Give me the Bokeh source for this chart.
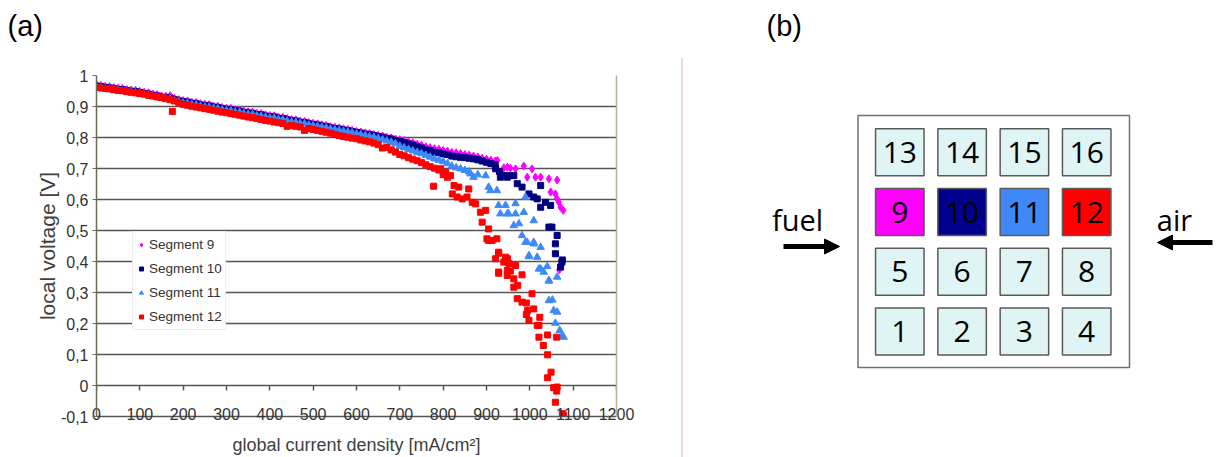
from bokeh.plotting import figure
from bokeh.layouts import row
from bokeh.models import (FixedTicker, CustomJSTickFormatter, Legend, LegendItem, Div, Title,
                          Range1d, Arrow, NormalHead, LinearAxis, ColumnDataSource)
from bokeh.embed import file_html
from bokeh.resources import INLINE
from bokeh.core.properties import value

# ---------------- data ----------------
grid_x = [0, 10, 20, 30, 40, 50, 60, 70, 80, 90,
          100, 110, 120, 130, 140, 150, 160, 170, 180, 190,
          200, 210, 220, 230, 240, 250, 260, 270, 280, 290,
          300, 310, 320, 330, 340, 350, 360, 370, 380, 390,
          400, 410, 420, 430, 440, 450, 460, 470, 480, 490,
          500, 510, 520, 530, 540, 550, 560, 570, 580, 590,
          600, 610, 620, 630, 640, 650, 660, 670, 680, 690,
          700, 710, 720, 730, 740, 750, 760, 770, 780, 790,
          800, 810, 820, 830, 840, 850, 860, 870, 880, 890,
          900, 910, 920]

seg9_dense = [0.970, 0.968, 0.965, 0.964, 0.961, 0.959, 0.958, 0.955, 0.953, 0.952,
              0.949, 0.946, 0.944, 0.940, 0.938, 0.934, 0.933, 0.935, 0.926, 0.922,
              0.919, 0.918, 0.914, 0.913, 0.909, 0.907, 0.906, 0.902, 0.901, 0.897,
              0.895, 0.894, 0.890, 0.889, 0.885, 0.883, 0.882, 0.878, 0.877, 0.873,
              0.871, 0.870, 0.866, 0.865, 0.861, 0.858, 0.857, 0.853, 0.852, 0.848,
              0.846, 0.844, 0.841, 0.839, 0.835, 0.833, 0.831, 0.828, 0.826, 0.823,
              0.820, 0.818, 0.815, 0.813, 0.810, 0.807, 0.805, 0.801, 0.799, 0.795,
              0.793, 0.790, 0.786, 0.783, 0.778, 0.775, 0.770, 0.767, 0.764, 0.762,
              0.758, 0.756, 0.752, 0.751, 0.748, 0.745, 0.743, 0.740, 0.737, 0.733,
              0.730, 0.727, 0.724]
seg9_tail_x = [925, 940, 948, 955, 967, 986, 994, 1005, 1013, 1025, 1044, 1048,
               1059, 1063, 1063, 1067, 1071, 1077, 1068]
seg9_tail_y = [0.726, 0.702, 0.704, 0.701, 0.699, 0.708, 0.672, 0.699, 0.672, 0.672,
               0.667, 0.624, 0.618, 0.663, 0.602, 0.591, 0.575, 0.565, 0.373]

seg10_dense = [0.966, 0.964, 0.961, 0.960, 0.957, 0.955, 0.954, 0.951, 0.949, 0.948,
               0.945, 0.942, 0.940, 0.936, 0.934, 0.930, 0.928, 0.927, 0.922, 0.918,
               0.915, 0.914, 0.910, 0.909, 0.905, 0.903, 0.902, 0.898, 0.897, 0.893,
               0.891, 0.890, 0.886, 0.885, 0.881, 0.879, 0.878, 0.874, 0.873, 0.869,
               0.867, 0.866, 0.862, 0.861, 0.857, 0.854, 0.853, 0.849, 0.848, 0.844,
               0.842, 0.840, 0.837, 0.835, 0.831, 0.829, 0.827, 0.824, 0.822, 0.819,
               0.816, 0.814, 0.811, 0.809, 0.806, 0.803, 0.801, 0.797, 0.795, 0.790,
               0.787, 0.784, 0.779, 0.776, 0.770, 0.766, 0.760, 0.757, 0.752, 0.751,
               0.747, 0.745, 0.740, 0.738, 0.736, 0.735, 0.733, 0.731, 0.728, 0.724,
               0.720, 0.716, 0.712]
seg10_tail_x = [921, 930, 932, 936, 948, 948, 963, 971, 982, 998, 1009, 1017, 1025,
                1025, 1036, 1048, 1044, 1051, 1063, 1059, 1059, 1074, 1071, 1075]
seg10_tail_y = [0.699, 0.690, 0.672, 0.677, 0.677, 0.672, 0.677, 0.651, 0.640, 0.618,
                0.608, 0.602, 0.645, 0.575, 0.591, 0.581, 0.511, 0.511, 0.484, 0.457,
                0.425, 0.398, 0.382, 0.405]

seg11_dense = [0.962, 0.960, 0.957, 0.956, 0.953, 0.951, 0.950, 0.947, 0.945, 0.944,
               0.941, 0.938, 0.936, 0.932, 0.930, 0.926, 0.924, 0.923, 0.918, 0.914,
               0.911, 0.910, 0.906, 0.905, 0.901, 0.899, 0.898, 0.894, 0.893, 0.889,
               0.887, 0.886, 0.882, 0.881, 0.877, 0.875, 0.874, 0.870, 0.869, 0.865,
               0.863, 0.862, 0.858, 0.857, 0.853, 0.850, 0.849, 0.845, 0.844, 0.840,
               0.838, 0.836, 0.833, 0.831, 0.827, 0.825, 0.823, 0.820, 0.818, 0.815,
               0.812, 0.809, 0.806, 0.803, 0.800, 0.797, 0.793, 0.789, 0.785, 0.780,
               0.772, 0.767, 0.762, 0.757, 0.752, 0.748, 0.743, 0.737, 0.731, 0.727,
               0.722, 0.716, 0.708, 0.703, 0.699, 0.694, 0.689]
seg11_tail_x = [863, 870, 880, 898, 905, 909, 924, 928, 932, 944, 948, 951, 963, 967,
                967, 975, 982, 986, 990, 990, 994, 998, 998, 1009, 1009, 1009, 1017,
                1021, 1025, 1025, 1032, 1040, 1044, 1044, 1044, 1052, 1055, 1063, 1063,
                1059, 1069, 1075, 1078]
seg11_tail_y = [0.683, 0.672, 0.680, 0.677, 0.640, 0.629, 0.629, 0.581, 0.554, 0.581,
                0.554, 0.554, 0.516, 0.587, 0.554, 0.522, 0.484, 0.559, 0.608, 0.462,
                0.462, 0.419, 0.416, 0.532, 0.457, 0.462, 0.414, 0.376, 0.446, 0.376,
                0.366, 0.384, 0.339, 0.337, 0.274, 0.276, 0.242, 0.350, 0.237, 0.201,
                0.178, 0.161, 0.156]

seg12_dense = [0.962, 0.960, 0.958, 0.957, 0.954, 0.952, 0.951, 0.948, 0.946, 0.944,
               0.942, 0.940, 0.936, 0.934, 0.931, 0.929, 0.925, 0.922, 0.918, 0.912,
               0.907, 0.904, 0.901, 0.898, 0.896, 0.893, 0.891, 0.888, 0.885, 0.882,
               0.880, 0.877, 0.875, 0.872, 0.869, 0.866, 0.864, 0.861, 0.858, 0.855,
               0.853, 0.850, 0.848, 0.845, 0.836, 0.839, 0.836, 0.834, 0.823, 0.829,
               0.826, 0.823, 0.820, 0.817, 0.814, 0.810, 0.806, 0.803, 0.801, 0.798,
               0.796, 0.792, 0.789, 0.786, 0.782, 0.777, 0.766, 0.768, 0.760, 0.753,
               0.745, 0.741, 0.735, 0.730, 0.725, 0.719, 0.712, 0.706, 0.701, 0.695]
seg12_tail_x = [175, 778, 794, 806, 817, 800, 810, 821, 825, 832, 836, 844, 855,
                859, 867, 875, 886, 890, 898, 901, 905, 905, 913, 921, 924, 928, 928,
                928, 928, 940, 944, 948, 948, 948, 948, 952, 955, 963, 963, 967, 971,
                972, 982, 982, 992, 992, 995, 998, 1005, 1009, 1017, 1021, 1021, 1023,
                1031, 1041, 1041, 1041, 1049, 1055, 1059, 1062, 1062, 1063, 1075, 1078]
seg12_tail_y = [0.884, 0.643, 0.699, 0.688, 0.677, 0.680, 0.672, 0.618, 0.645,
                0.608, 0.640, 0.602, 0.608, 0.634, 0.591, 0.586, 0.559, 0.527, 0.565,
                0.473, 0.505, 0.468, 0.468, 0.409, 0.473, 0.430, 0.427, 0.366, 0.362,
                0.398, 0.414, 0.398, 0.409, 0.371, 0.355, 0.393, 0.369, 0.344, 0.317,
                0.387, 0.280, 0.323, 0.357, 0.269, 0.266, 0.229, 0.242, 0.210, 0.296,
                0.247, 0.194, 0.194, 0.156, 0.220, 0.129, 0.163, 0.099, 0.025, 0.043,
                -0.007, -0.054, 0.156, -0.018, -0.005, -0.091, -0.096]

series_names = ["Segment 9", "Segment 10", "Segment 11", "Segment 12"]
x_ticks = [0, 100, 200, 300, 400, 500, 600, 700, 800, 900, 1000, 1100, 1200]
y_ticks = [-0.1, 0.0, 0.1, 0.2, 0.3, 0.4, 0.5, 0.6, 0.7, 0.8, 0.9, 1.0]

cell_labels = ["13", "14", "15", "16", "9", "10", "11", "12", "5", "6", "7", "8", "1", "2", "3", "4"]
cell_rows = [0, 0, 0, 0, 1, 1, 1, 1, 2, 2, 2, 2, 3, 3, 3, 3]
cell_cols = [0, 1, 2, 3, 0, 1, 2, 3, 0, 1, 2, 3, 0, 1, 2, 3]
cell_colors = ["#dff4f5", "#dff4f5", "#dff4f5", "#dff4f5",
               "#ff00ff", "#00008c", "#3f88f5", "#ff0000",
               "#dff4f5", "#dff4f5", "#dff4f5", "#dff4f5",
               "#dff4f5", "#dff4f5", "#dff4f5", "#dff4f5"]

FONT = "Liberation Sans"


def panel_titles(fig, label, offset):
    # a blank spacer title next to the frame, then the panel letter above it
    fig.add_layout(Title(text=" ", text_font=FONT, text_font_size="29px", standoff=0), "above")
    fig.add_layout(Title(text=label, text_font=FONT, text_font_size="29px", text_font_style="normal",
                         text_color="black", align="left", offset=offset, standoff=0), "above")


# ---------------- panel (a) ----------------
p = figure(width=681, height=457, x_range=Range1d(0, 1200), y_range=Range1d(-0.1, 1.0),
           output_backend="svg", toolbar_location=None,
           min_border_left=96, min_border_right=65, min_border_top=75, min_border_bottom=41)
p.background_fill_color = "white"
p.border_fill_color = "white"
p.outline_line_color = None
panel_titles(p, "(a)", -89)

p.xgrid.visible = False
p.ygrid.ticker = FixedTicker(ticks=y_ticks)
p.ygrid.grid_line_color = "#555555"
p.ygrid.grid_line_width = 1.5

fmt = CustomJSTickFormatter(code="const v = Math.round(tick*10)/10; return String(v).replace('.', ',');")

ya = p.yaxis[0]
ya.ticker = FixedTicker(ticks=y_ticks)
ya.formatter = fmt
ya.major_label_text_font = FONT
ya.major_label_text_font_size = "16px"
ya.major_label_text_color = "#333333"
ya.major_tick_out = 4
ya.major_tick_in = 0
ya.minor_tick_out = 0
ya.minor_tick_in = 0
ya.major_label_standoff = 4
ya.axis_line_color = "#6e6e58"
ya.axis_line_width = 1.5
ya.major_tick_line_color = "#6e6e58"
ya.axis_label = "local voltage [V]"
ya.axis_label_text_font = FONT
ya.axis_label_text_font_size = "21px"
ya.axis_label_text_font_style = "normal"
ya.axis_label_text_color = "#404040"
ya.axis_label_standoff = -1

# main x axis: tick labels sitting on the -0.1 line, plus the axis title
xa = p.xaxis[0]
xa.ticker = FixedTicker(ticks=x_ticks)
xa.major_label_text_font = FONT
xa.major_label_text_font_size = "16px"
xa.major_label_text_color = "#333333"
xa.major_tick_out = 0
xa.major_tick_in = 0
xa.minor_tick_out = 0
xa.minor_tick_in = 0
xa.major_label_standoff = -9
xa.axis_line_color = "#555555"
xa.axis_line_width = 1.5
xa.axis_label = "global current density [mA/cm²]"
xa.axis_label_text_font = FONT
xa.axis_label_text_font_size = "18px"
xa.axis_label_text_font_style = "normal"
xa.axis_label_text_color = "#404040"
xa.axis_label_standoff = 12

# tick marks hanging below the zero line
tick_axis = LinearAxis(fixed_location=0, ticker=FixedTicker(ticks=x_ticks),
                       formatter=CustomJSTickFormatter(code="return '';"),
                       major_tick_out=5, major_tick_in=0, minor_tick_out=0, minor_tick_in=0,
                       major_tick_line_color="#555555", major_tick_line_width=1.5,
                       axis_line_color=None, major_label_standoff=0)
p.add_layout(tick_axis, "below")

right = LinearAxis(ticker=FixedTicker(ticks=[]), major_tick_out=0, major_tick_in=0,
                   minor_tick_out=0, minor_tick_in=0, major_label_text_font_size="0px",
                   major_label_standoff=0, axis_line_color="#b8b38c", axis_line_width=1.5)
p.add_layout(right, "right")

def series(dense, tail_x, tail_y):
    xs = grid_x[:len(dense)] + tail_x
    ys = dense + tail_y
    return ColumnDataSource(data=dict(x=xs, y=ys))

r9 = p.scatter("x", "y", source=series(seg9_dense, seg9_tail_x, seg9_tail_y),
               marker="diamond", size=8, color="#ff00ff")
r10 = p.scatter("x", "y", source=series(seg10_dense, seg10_tail_x, seg10_tail_y),
                marker="square", size=6, color="#000080")
r11 = p.scatter("x", "y", source=series(seg11_dense, seg11_tail_x, seg11_tail_y),
                marker="triangle", size=7.5, color="#3d8af7")
r12 = p.scatter("x", "y", source=series(seg12_dense, seg12_tail_x, seg12_tail_y),
                marker="square", size=6, color="#ff0000")

legend = Legend(items=[LegendItem(label=n, renderers=[r]) for n, r in zip(series_names, [r9, r10, r11, r12])],
                location=(36, 86), orientation="vertical",
                label_text_font=FONT, label_text_font_size="13.5px", label_text_color="#333333",
                glyph_width=10, glyph_height=19, label_height=19, spacing=5, padding=3,
                margin=0, label_standoff=3, border_line_color="#dddddd",
                background_fill_color="white", background_fill_alpha=1.0)
p.add_layout(legend)

# ---------------- separator between the panels ----------------
sep = Div(text="", width=2, height=399, margin=(58, 0, 0, 0),
          styles={"background-color": "#f2d9d9"})

# ---------------- panel (b) ----------------
p2 = figure(width=544, height=457, x_range=Range1d(683, 1227), y_range=Range1d(416, 75),
            output_backend="svg", toolbar_location=None,
            min_border_left=0, min_border_right=0, min_border_top=75, min_border_bottom=41,
            x_axis_location=None, y_axis_location=None)
p2.outline_line_color = None
p2.xgrid.visible = False
p2.ygrid.visible = False
p2.background_fill_color = "white"
p2.border_fill_color = "white"
panel_titles(p2, "(b)", 83)

# outer plate
p2.quad(left=[857.5], right=[1129], top=[115], bottom=[367], fill_color="white",
        line_color="#707070", line_width=1.5)

col_x0, col_pitch = 899.3, 62.3
row_y0, row_pitch = 151.8, 59.7
cx = [col_x0 + c * col_pitch for c in cell_cols]
cy = [row_y0 + r * row_pitch for r in cell_rows]
cells = ColumnDataSource(data=dict(x=cx, y=cy, label=cell_labels, color=cell_colors))
p2.rect("x", "y", width=48.5, height=47, source=cells, fill_color="color",
        line_color="#5a5a5a", line_width=1.5)
p2.text("x", "y", text="label", source=cells, text_font=value("Open Sans"),
        text_font_size="30px", text_align="center", text_baseline="middle", text_color="black")

p2.text(x=[797, 1174], y=[219, 219], text=["fuel", "air"], text_font=value("Open Sans"),
        text_font_size="29px", text_align="center", text_baseline="alphabetic", text_color="black")

p2.add_layout(Arrow(end=NormalHead(size=15, fill_color="black", line_color="black"),
                    x_start=783, y_start=246, x_end=839, y_end=246,
                    line_width=5, line_color="black"))
p2.add_layout(Arrow(end=NormalHead(size=15, fill_color="black", line_color="black"),
                    x_start=1212, y_start=242, x_end=1157, y_end=242,
                    line_width=5, line_color="black"))

layout = row(p, sep, p2)
open("out.html", "w").write(file_html(layout, INLINE))
